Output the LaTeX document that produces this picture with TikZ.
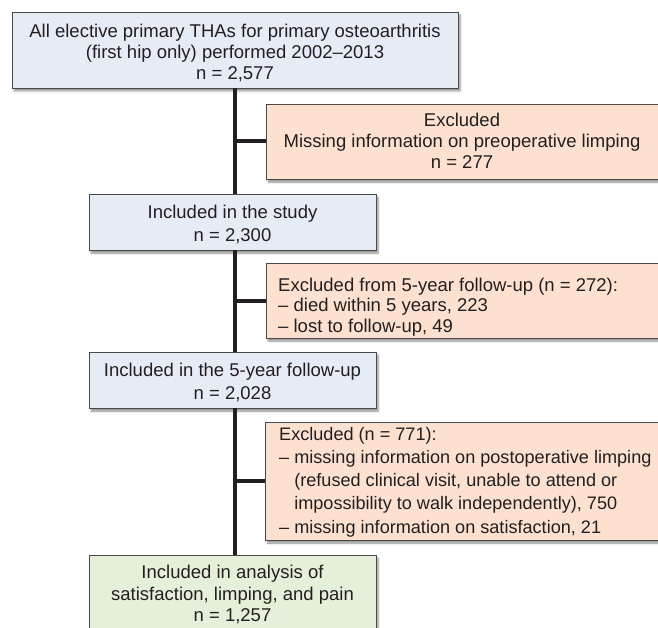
\documentclass[tikz,border=0pt]{standalone}
\usepackage{fontspec}
\setmainfont{Liberation Sans}
\usetikzlibrary{shadows.blur}
\definecolor{bluebox}{HTML}{E6ECF6}
\definecolor{salmonbox}{HTML}{FDE1D0}
\definecolor{greenbox}{HTML}{E5F0DA}
\definecolor{edgecol}{HTML}{4A4A4A}
\definecolor{txt}{HTML}{231F20}
\tikzset{
  frame/.style={draw=edgecol, line width=0.7pt, inner sep=0pt,
    blur shadow={shadow xshift=2pt, shadow yshift=-3pt, shadow blur steps=6, shadow blur extra rounding=0pt, shadow opacity=45}},
  incl/.style={frame, fill=bluebox},
  excl/.style={frame, fill=salmonbox},
  final/.style={frame, fill=greenbox},
  ctext/.style={text=txt, inner sep=0pt, align=center},
  ltext/.style={text=txt, inner sep=0pt, align=left, anchor=west},
  spine/.style={line width=4pt, draw=txt}
}
\newcommand{\fs}[1]{\fontsize{18.5}{#1}\selectfont}
\begin{document}
\begin{tikzpicture}[x=1pt,y=-1pt]
\useasboundingbox (0,0) rectangle (658,628);
% frames
\node[incl, minimum width=446pt, minimum height=76pt] (b1) at (235,50) {};
\node[excl, minimum width=400pt, minimum height=75pt] (b2) at (466,141.5) {};
\node[incl, minimum width=287pt, minimum height=56pt] (b3) at (232.5,222) {};
\node[excl, minimum width=400pt, minimum height=75pt] (b4) at (466,300.5) {};
\node[incl, minimum width=287pt, minimum height=56pt] (b5) at (232.5,380) {};
\node[excl, minimum width=400pt, minimum height=118pt] (b6) at (465.5,481) {};
\node[final, minimum width=287pt, minimum height=80pt] (b7) at (232.5,595) {};
% texts
\node[ctext, font=\fs{21}] (t1) at (235,52.5)
  {All elective primary THAs for primary osteoarthritis\\(first hip only) performed 2002–2013\\n = 2,577};
\node[ctext, font=\fs{21}] (t2) at (462,141)
  {Excluded\\Missing information on preoperative limping\\n = 277};
\node[ctext, font=\fs{23}] (t3) at (232.5,224)
  {Included in the study\\n = 2,300};
\node[ltext, font=\fs{20.7}] (t4) at (278,307)
  {Excluded from 5-year follow-up (n = 272):\\– died within 5 years, 223\\– lost to follow-up, 49};
\node[ctext, font=\fs{23}] (t5) at (232.5,382)
  {Included in the 5-year follow-up\\n = 2,028};
\node[ltext, font={\fontsize{18.1}{23.2}\selectfont}] (t6) at (279,482)
  {Excluded (n = 771):\\– missing information on postoperative limping\\\phantom{– }(refused clinical visit, unable to attend or\\\phantom{– }impossibility to walk independently), 750\\– missing information on satisfaction, 21};
\node[ctext, font=\fs{21.5}] (t7) at (232.5,594.5)
  {Included in analysis of\\satisfaction, limping, and pain\\n = 1,257};
% connectors
\coordinate (sp) at (235,0);
\draw[spine] (b1.south -| sp) -- (b3.north -| sp);
\draw[spine] (b3.south -| sp) -- (b5.north -| sp);
\draw[spine] (b5.south -| sp) -- (b7.north -| sp);
\draw[spine] (b2.west -| sp) -- (b2.west);
\draw[spine] (b4.west -| sp) -- (b4.west);
\draw[spine] (b6.west -| sp) -- (b6.west);
\end{tikzpicture}
\end{document}
